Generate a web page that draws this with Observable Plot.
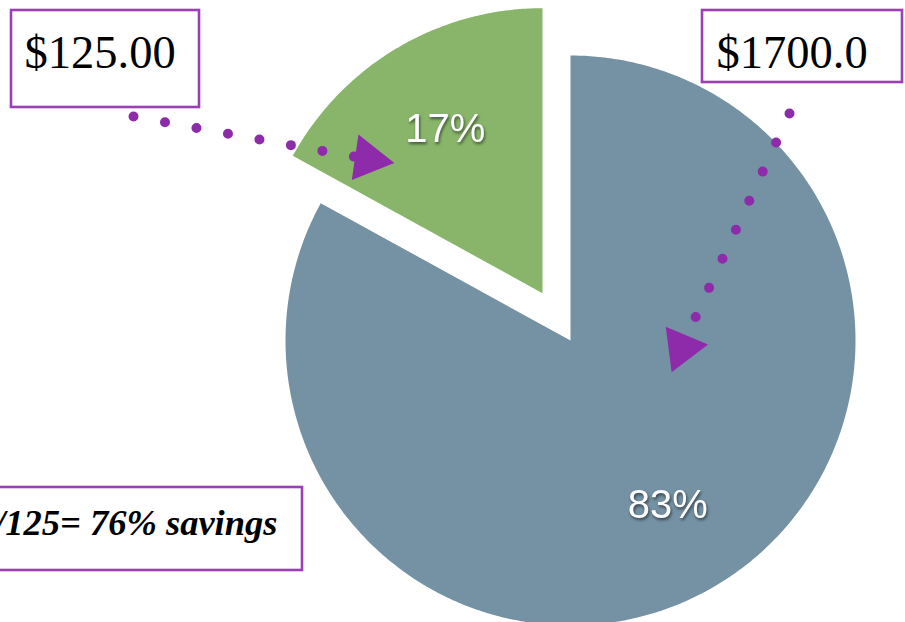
<!DOCTYPE html>
<html><head><meta charset="utf-8">
<script src="https://cdn.jsdelivr.net/npm/d3@7"></script>
<script src="https://cdn.jsdelivr.net/npm/@observablehq/plot@0.6"></script>
<style>
body{margin:0;background:#fff;overflow:hidden;}
svg{display:block;}
.pct text{filter: drop-shadow(1px 2px 1.5px rgba(0,0,0,0.55));}
</style></head><body><div id="chart"></div>
<script>
// ---- data ----
const sliceNames = ["Other", "Paid"];
const sliceValues = [83, 17];
const sliceLabels = ["83%", "17%"];
const calloutTexts = ["$125.00", "$1700.0", "/125= 76% savings"];

// ---- layout (pixel units) ----
const W = 905, H = 622;
const cx = 570, cy = 340, R = 285, explode = 55, labelR = 0.67;
const sliceColors = ["#7592a4", "#89b56b"];
const explodeIdx = 1;
const purple = "#8d2bab", boxColor = "#9a3fb6";

const boxes = [
  {x1: 11, x2: 199, y1: 10, y2: 107},
  {x1: 702, x2: 902, y1: 10, y2: 82},
  {x1: -20, x2: 302, y1: 487, y2: 570}
];
const textPos = [
  {x: 24, y: 67, anchor: "start", size: 46.5, weight: "normal", style: "normal"},
  {x: 716, y: 67, anchor: "start", size: 46.5, weight: "normal", style: "normal"},
  {x: 277, y: 534, anchor: "end", size: 36.5, weight: "bold", style: "italic"}
];
const dotLines = [
  [{x: 133, y: 116}, {x: 356, y: 156.6}],
  [{x: 789, y: 113}, {x: 694, y: 319}]
];
const arrows = [
  {x: 367.7, y: 158.7, rotate: 98.4},
  {x: 681.3, y: 347.3, rotate: 82.6}
];

// ---- pie geometry from data ----
const arcs = d3.pie().sort(null)(sliceValues);
const slicePolys = [];
const labelPts = [];
arcs.forEach((a, i) => {
  const off = i === explodeIdx ? explode : 0;
  const mid = (a.startAngle + a.endAngle) / 2;
  const ox = cx + off * Math.sin(mid), oy = cy - off * Math.cos(mid);
  const n = Math.max(2, Math.ceil((a.endAngle - a.startAngle) / 0.01));
  const pts = [{x: ox, y: oy}];
  for (let k = 0; k <= n; k++) {
    const t = a.startAngle + (a.endAngle - a.startAngle) * k / n;
    pts.push({x: ox + R * Math.sin(t), y: oy - R * Math.cos(t)});
  }
  pts.push({x: ox, y: oy});
  slicePolys.push(pts);
  labelPts.push({label: sliceLabels[i], name: sliceNames[i], x: ox + labelR * R * Math.sin(mid), y: oy - labelR * R * Math.cos(mid)});
});

const callouts = calloutTexts.map((t, i) => ({text: t, ...textPos[i]}));

const marks = [];
slicePolys.forEach((pts, i) => {
  marks.push(Plot.line(pts, {x: "x", y: "y", fill: sliceColors[i], stroke: "none", curve: "linear-closed"}));
});
marks.push(Plot.text(labelPts, {x: "x", y: "y", text: "label", fill: "white", fontSize: 40, fontFamily: "Liberation Sans, Arial, sans-serif", className: "pct"}));
dotLines.forEach(l => {
  marks.push(Plot.line(l, {x: "x", y: "y", stroke: purple, strokeWidth: 10, strokeLinecap: "round", strokeDasharray: "0 32"}));
});
marks.push(Plot.dot(arrows, {x: "x", y: "y", symbol: "triangle", r: 17, fill: purple, rotate: "rotate"}));
marks.push(Plot.rect(boxes, {x1: "x1", x2: "x2", y1: "y1", y2: "y2", fill: "white", stroke: boxColor, strokeWidth: 2.6}));
callouts.forEach(c => {
  marks.push(Plot.text([c], {x: "x", y: "y", text: "text", textAnchor: c.anchor, lineAnchor: "bottom", fontSize: c.size, fontWeight: c.weight, fontStyle: c.style, fontFamily: "Liberation Serif, Times New Roman, serif", fill: "black"}));
});

const chart = Plot.plot({
  width: W, height: H,
  margin: 0,
  x: {domain: [0, W], range: [0, W], axis: null},
  y: {domain: [0, H], range: [0, H], axis: null},
  marks
});
document.getElementById("chart").append(chart);
</script></body></html>
